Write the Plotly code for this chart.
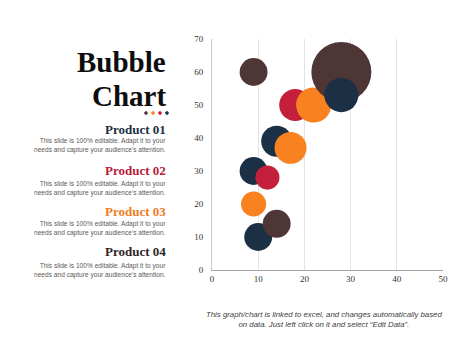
import plotly.graph_objects as go

# ---- data ----
products = ["Product 01", "Product 02", "Product 03", "Product 04"]
product_colors = ["#1b2f45", "#c4203b", "#f8821f", "#4f3636"]
heading_colors = ["#1b2f45", "#b71c3a", "#f07c1e", "#2e2525"]

# bubbles (drawing order as in the reference)
bubble_x = [9, 9, 9, 10, 12, 14, 14, 17, 18, 22, 28, 28]
bubble_y = [20, 30, 60, 10, 28, 14, 39, 37, 50, 50, 60, 53]
bubble_size = [6.3, 7.8, 7.8, 7.8, 5.8, 7.8, 9.6, 10.2, 10.2, 12.3, 36, 11.6]
bubble_product = [2, 0, 3, 0, 1, 3, 0, 2, 1, 2, 3, 0]

x_ticks = [0, 10, 20, 30, 40, 50]
y_ticks = [0, 10, 20, 30, 40, 50, 60, 70]

desc = "This slide is 100% editable. Adapt it to your<br>needs and capture your audience's attention."
footnote = ("This graph/chart is linked to excel, and changes automatically based<br>"
            "on data. Just left click on it and select \u201cEdit Data\u201d.")

# ---- geometry ----
W, H = 474, 355
ML, MR, MT, MB = 212, 31, 39, 85
PW, PH = W - ML - MR, H - MT - MB


def px(xp):
    return (xp - ML) / PW


def py(yp):
    return (H - MB - yp) / PH


max_diam = 60
sizeref = 2.0 * max(bubble_size) / (max_diam ** 2)

fig = go.Figure()
fig.add_trace(go.Scatter(
    x=bubble_x, y=bubble_y, mode="markers",
    marker=dict(size=bubble_size, sizemode="area", sizeref=sizeref,
                color=[product_colors[p] for p in bubble_product],
                opacity=1, line=dict(width=0)),
    cliponaxis=False, showlegend=False, hoverinfo="x+y",
))

ann = []
shapes = []
serif = "Liberation Serif, Times New Roman, serif"
sans = "Liberation Sans, Arial, sans-serif"

ann.append(dict(text="<b>Bubble</b>", x=px(168), y=py(62), xref="paper", yref="paper",
                xanchor="right", yanchor="middle", showarrow=False,
                font=dict(family=serif, size=29, color="#0d0d0d")))
ann.append(dict(text="<b>Chart</b>", x=px(168), y=py(96), xref="paper", yref="paper",
                xanchor="right", yanchor="middle", showarrow=False,
                font=dict(family=serif, size=29, color="#0d0d0d")))

dot_colors = ["#4f3636", "#f8821f", "#c4203b", "#1b2f45"]
for i, c in enumerate(dot_colors):
    cx, cy, r = 146 + 7 * i, 113, 2.2
    path = "M {} {} L {} {} L {} {} L {} {} Z".format(
        px(cx), py(cy - r), px(cx + r), py(cy), px(cx), py(cy + r), px(cx - r), py(cy))
    shapes.append(dict(type="path", path=path, xref="paper", yref="paper",
                       fillcolor=c, line=dict(width=0)))

head_y = [129, 170, 211, 251]
desc_y = [145, 188, 228, 270]
for i, p in enumerate(products):
    ann.append(dict(text="<b>" + p + "</b>", x=px(168), y=py(head_y[i]), xref="paper", yref="paper",
                    xanchor="right", yanchor="middle", showarrow=False,
                    font=dict(family=serif, size=13, color=heading_colors[i])))
    ann.append(dict(text=desc, x=px(168), y=py(desc_y[i]), xref="paper", yref="paper",
                    xanchor="right", yanchor="middle", showarrow=False, align="right",
                    font=dict(family=sans, size=6.6, color="#5a5a5a")))

ann.append(dict(text="<i>" + footnote + "</i>", x=px(324), y=py(319), xref="paper", yref="paper",
                xanchor="center", yanchor="middle", showarrow=False, align="center",
                font=dict(family=sans, size=7.8, color="#404040")))

fig.update_layout(
    width=W, height=H,
    margin=dict(l=ML, r=MR, t=MT, b=MB, pad=0),
    paper_bgcolor="white", plot_bgcolor="white",
    annotations=ann, shapes=shapes,
    xaxis=dict(range=[0, 50], tickvals=x_ticks, showgrid=True, gridcolor="#e3e3e3", gridwidth=1,
               zeroline=False, showline=True, linecolor="#a6a6a6", linewidth=1,
               ticks="", tickfont=dict(family=serif, size=9, color="#333333"), fixedrange=True),
    yaxis=dict(range=[0, 70], tickvals=y_ticks, showgrid=False,
               zeroline=False, showline=True, linecolor="#c8c8c8", linewidth=1,
               ticks="", ticklabelstandoff=6,
               tickfont=dict(family=serif, size=9, color="#333333"), fixedrange=True),
    showlegend=False,
)

fig.write_html("out.html", config={"displayModeBar": False},
               post_script="document.body.style.margin='0';document.body.style.overflow='hidden';")
